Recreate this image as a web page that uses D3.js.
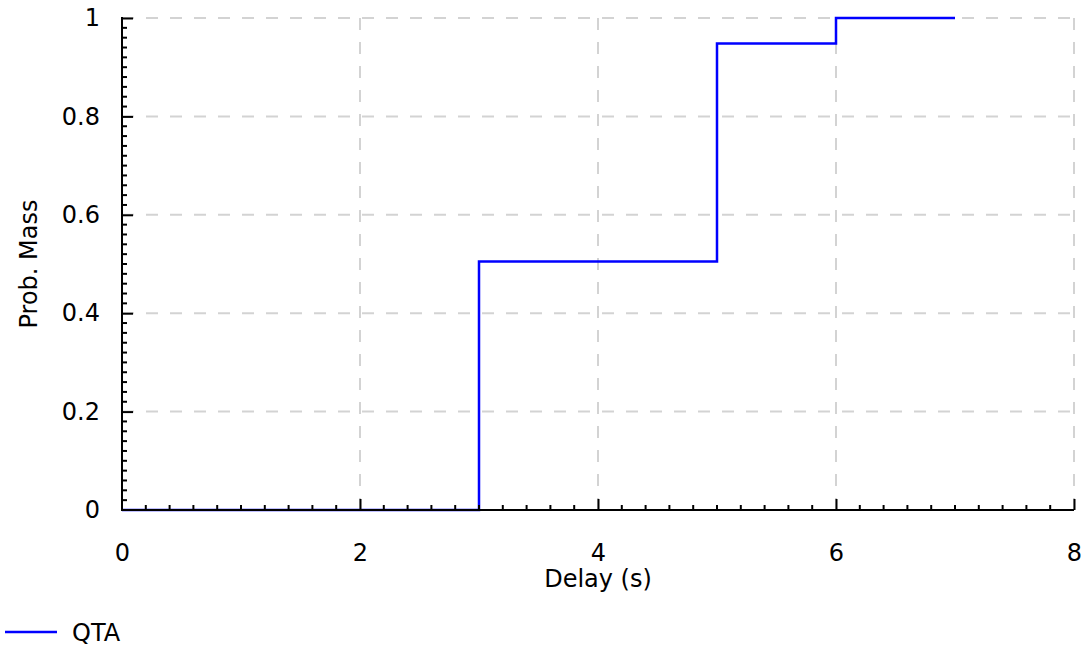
<!DOCTYPE html>
<html>
<head>
<meta charset="utf-8">
<script src="https://cdn.jsdelivr.net/npm/d3@7"></script>
<style>
  html, body { margin: 0; padding: 0; background: #fff; }
  svg { display: block; font-family: "DejaVu Sans", sans-serif; }
</style>
</head>
<body>
<svg id="chart" width="1090" height="650"></svg>
<script>
// Step function: delay breakpoints and cumulative probability mass
const delays = [0, 3, 5, 6, 7];
const mass = [0, 0.505, 0.948, 1, 1];
const seriesName = "QTA";
const xTicks = [0, 2, 4, 6, 8];
const yTicks = [0, 0.2, 0.4, 0.6, 0.8, 1];

const svg = d3.select("#chart");
const plotLeft = 122, plotRight = 1074, plotTop = 18, plotBottom = 510;
const fontSize = 24;

const x = d3.scaleLinear().domain([0, 8]).range([plotLeft, plotRight]);
const y = d3.scaleLinear().domain([0, 1]).range([plotBottom, plotTop]);

// Dashed grid
const grid = svg.append("g");
grid.selectAll("line.vx").data(xTicks.filter(d => d > 0)).join("line")
  .attr("x1", d => x(d)).attr("x2", d => x(d))
  .attr("y1", plotTop).attr("y2", plotBottom)
  .attr("stroke", "#d3d3d3").attr("stroke-width", 2)
  .attr("stroke-dasharray", "12,12");
grid.selectAll("line.hy").data(yTicks.filter(d => d > 0)).join("line")
  .attr("x1", plotLeft).attr("x2", plotRight)
  .attr("y1", d => y(d)).attr("y2", d => y(d))
  .attr("stroke", "#d3d3d3").attr("stroke-width", 2)
  .attr("stroke-dasharray", "12,12");

// Step line
const line = d3.line()
  .x((d, i) => x(delays[i]))
  .y((d, i) => y(mass[i]))
  .curve(d3.curveStepAfter);
svg.append("path")
  .datum(mass)
  .attr("d", line)
  .attr("fill", "none")
  .attr("stroke", "#0000ff")
  .attr("stroke-width", 2.5);

// Axes with inward ticks
const axisColor = "#000";
const xMinor = d3.range(0, 8.0001, 0.2).filter(v => Math.abs(v / 2 - Math.round(v / 2)) > 1e-6);
const yMinor = d3.range(0, 1.0001, 0.02).filter(v => Math.abs(v / 0.2 - Math.round(v / 0.2)) > 1e-6);

const xAxis = svg.append("g").attr("transform", `translate(0,${plotBottom})`);
xAxis.call(d3.axisBottom(x).tickValues(xTicks).tickSize(-11).tickPadding(34).tickFormat(d3.format("d")));
xAxis.attr("font-size", null).attr("font-family", null);
xAxis.selectAll(".tick").filter(d => d === 0).select("line").remove();
xAxis.selectAll(".tick line").attr("stroke", axisColor).attr("stroke-width", 2);
xAxis.select(".domain").attr("d", `M${plotLeft},0H${plotRight}`).attr("stroke", axisColor).attr("stroke-width", 2);
xAxis.selectAll(".tick text").attr("font-size", fontSize).attr("fill", "#000").attr("font-family", "DejaVu Sans");
xAxis.selectAll("line.minor").data(xMinor).join("line").attr("class", "minor")
  .attr("x1", d => x(d)).attr("x2", d => x(d)).attr("y1", 0).attr("y2", -5)
  .attr("stroke", axisColor).attr("stroke-width", 2);

const yAxis = svg.append("g").attr("transform", `translate(${plotLeft},0)`);
yAxis.call(d3.axisLeft(y).tickValues(yTicks).tickSize(-11).tickPadding(22).tickFormat(d => d === 0 || d === 1 ? d3.format("d")(d) : d3.format(".1f")(d)));
yAxis.attr("font-size", null).attr("font-family", null);
yAxis.selectAll(".tick").filter(d => d === 0).select("line").remove();
yAxis.selectAll(".tick line").attr("stroke", axisColor).attr("stroke-width", 2);
yAxis.select(".domain").attr("d", `M0,${plotTop - 1}V${plotBottom + 1}`).attr("stroke", axisColor).attr("stroke-width", 2);
yAxis.selectAll(".tick text").attr("font-size", fontSize).attr("fill", "#000").attr("font-family", "DejaVu Sans");
yAxis.selectAll("line.minor").data(yMinor).join("line").attr("class", "minor")
  .attr("x1", 0).attr("x2", 5).attr("y1", d => y(d)).attr("y2", d => y(d))
  .attr("stroke", axisColor).attr("stroke-width", 2);

// Axis titles
svg.append("text")
  .attr("x", (plotLeft + plotRight) / 2).attr("y", 587)
  .attr("text-anchor", "middle").attr("font-size", fontSize).attr("fill", "#000")
  .text("Delay (s)");
svg.append("text")
  .attr("transform", `translate(37,${(plotTop + plotBottom) / 2}) rotate(-90)`)
  .attr("text-anchor", "middle").attr("font-size", fontSize).attr("fill", "#000")
  .text("Prob. Mass");

// Legend
const legend = svg.append("g").attr("transform", "translate(5,632)");
legend.append("line").attr("x1", 0).attr("x2", 52).attr("y1", 0).attr("y2", 0)
  .attr("stroke", "#0000ff").attr("stroke-width", 2.5);
legend.append("text").attr("x", 67).attr("y", 9).attr("font-size", fontSize).attr("fill", "#000")
  .text(seriesName);
</script>
</body>
</html>
